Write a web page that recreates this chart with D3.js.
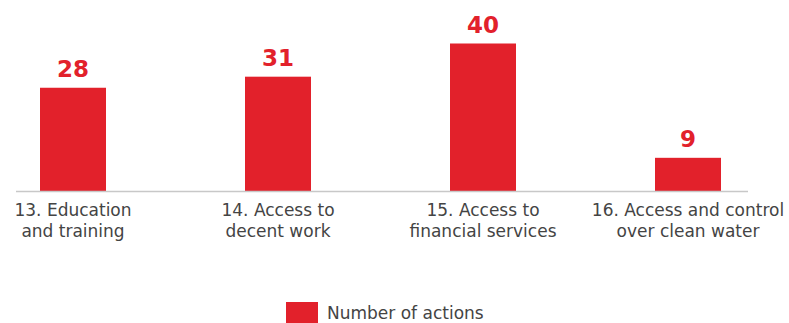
<!DOCTYPE html>
<html><head><meta charset="utf-8">
<script src="https://cdn.jsdelivr.net/npm/d3@7"></script>
<style>body{margin:0;background:#fff}svg{display:block}</style>
</head><body>
<svg id="c" width="789" height="323"></svg>
<script>
const categories = [["13. Education","and training"],["14. Access to","decent work"],["15. Access to","financial services"],["16. Access and control","over clean water"]];
const values = [28, 31, 40, 9];
const seriesName = "Number of actions";

const svg = d3.select("#c");
const red = "#e2212b", textCol = "#444";
const font = "DejaVu Sans";
const x = d3.scalePoint().domain(d3.range(categories.length)).range([73, 688]);
const y = d3.scaleLinear().domain([0, 40]).range([191, 43.5]);
const bw = 66;

svg.selectAll("rect.bar").data(values).join("rect").attr("class","bar")
  .attr("x",(d,i)=>x(i)-bw/2).attr("width",bw)
  .attr("y",d=>y(d)).attr("height",d=>y(0)-y(d)).attr("fill",red);

svg.append("line").attr("x1",16).attr("x2",748).attr("y1",191.5).attr("y2",191.5)
  .attr("stroke","#c8c8c8").attr("stroke-width",1.5);

svg.selectAll("text.val").data(values).join("text").attr("class","val")
  .attr("x",(d,i)=>x(i)).attr("y",d=>y(d)-11).attr("text-anchor","middle")
  .attr("font-family",font).attr("font-weight","bold").attr("font-size",23)
  .attr("fill",red).text(d=>d);

categories.forEach((lines,i)=>{
  lines.forEach((s,j)=>{
    svg.append("text").attr("x",x(i)).attr("y",216+j*21).attr("text-anchor","middle")
      .attr("font-family",font).attr("font-size",17).attr("fill",textCol).text(s);
  });
});

svg.append("rect").attr("x",286).attr("y",302).attr("width",32).attr("height",21).attr("fill",red);
svg.append("text").attr("x",327).attr("y",319).attr("font-family",font).attr("font-size",17)
  .attr("fill",textCol).text(seriesName);
</script>
</body></html>
